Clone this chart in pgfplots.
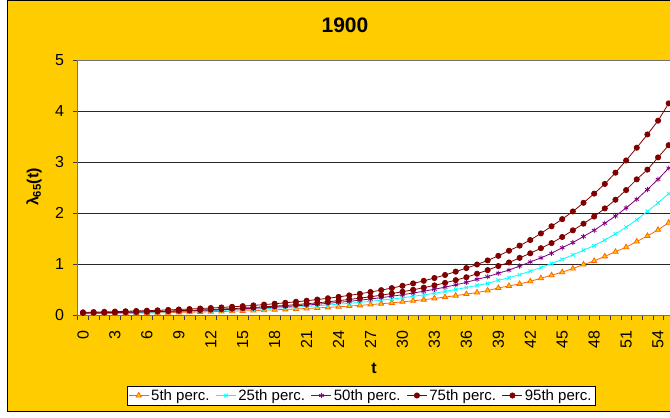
\documentclass[border=0pt]{standalone}
\usepackage{pgfplots}
\pgfplotsset{compat=1.18}
\usepackage{pgfplotstable}
\usepackage{fontspec}
\setmainfont{Liberation Sans}

\definecolor{gold}{RGB}{255,204,0}
\definecolor{orng}{RGB}{255,102,0}
\definecolor{cyn}{RGB}{0,255,255}
\definecolor{purp}{RGB}{128,0,128}
\definecolor{dred}{RGB}{128,0,0}

% lambda_65(t) percentiles, year 1900
\pgfplotstableread{
t p5 p25 p50 p75 p95
0 0.025 0.033 0.037 0.040 0.053
1 0.027 0.035 0.040 0.044 0.057
2 0.029 0.038 0.044 0.047 0.062
3 0.032 0.041 0.047 0.051 0.067
4 0.034 0.045 0.051 0.056 0.073
5 0.037 0.048 0.055 0.061 0.079
6 0.040 0.052 0.060 0.066 0.085
7 0.043 0.056 0.065 0.071 0.092
8 0.047 0.061 0.070 0.077 0.100
9 0.051 0.066 0.076 0.084 0.108
10 0.055 0.071 0.082 0.091 0.117
11 0.059 0.077 0.089 0.098 0.127
12 0.064 0.083 0.096 0.107 0.137
13 0.069 0.090 0.104 0.116 0.148
14 0.075 0.097 0.112 0.125 0.161
15 0.081 0.105 0.122 0.136 0.174
16 0.087 0.114 0.132 0.147 0.188
17 0.094 0.123 0.142 0.160 0.204
18 0.102 0.133 0.154 0.173 0.221
19 0.110 0.144 0.167 0.188 0.239
20 0.119 0.155 0.180 0.203 0.259
21 0.128 0.168 0.195 0.221 0.280
22 0.139 0.181 0.211 0.239 0.303
23 0.150 0.196 0.229 0.259 0.328
24 0.162 0.212 0.248 0.281 0.355
25 0.175 0.229 0.268 0.305 0.385
26 0.189 0.248 0.290 0.330 0.416
27 0.204 0.268 0.314 0.358 0.451
28 0.221 0.290 0.340 0.388 0.488
29 0.238 0.313 0.368 0.421 0.528
30 0.258 0.338 0.398 0.456 0.572
31 0.278 0.366 0.431 0.494 0.619
32 0.301 0.395 0.466 0.536 0.670
33 0.325 0.427 0.505 0.581 0.725
34 0.351 0.462 0.546 0.630 0.785
35 0.379 0.500 0.591 0.683 0.850
36 0.410 0.540 0.640 0.740 0.920
37 0.44 0.58 0.70 0.81 0.99
38 0.48 0.62 0.75 0.88 1.07
39 0.53 0.68 0.82 0.96 1.16
40 0.57 0.73 0.88 1.03 1.26
41 0.61 0.79 0.96 1.12 1.36
42 0.66 0.86 1.04 1.21 1.47
43 0.72 0.93 1.12 1.31 1.60
44 0.78 1.01 1.21 1.41 1.74
45 0.84 1.09 1.32 1.53 1.88
46 0.91 1.18 1.42 1.66 2.03
47 0.99 1.27 1.54 1.79 2.20
48 1.06 1.36 1.66 1.93 2.38
49 1.15 1.47 1.80 2.09 2.57
50 1.24 1.59 1.94 2.26 2.79
51 1.33 1.72 2.10 2.45 3.03
52 1.44 1.87 2.27 2.66 3.28
53 1.55 2.03 2.46 2.85 3.54
54 1.67 2.20 2.66 3.09 3.81
55 1.81 2.38 2.88 3.33 4.15
}\lambdatab

\begin{document}
\begin{tikzpicture}[x=1pt,y=1pt]
\useasboundingbox (0,0) rectangle (670,418);
\fill[white] (0,0) rectangle (670,418);
\draw[fill=gold, line width=1pt] (7.5,6) rectangle (700,417.5);

\begin{axis}[
    at={(83.0pt,103pt)}, anchor=origin,
    scale only axis,
    width=607pt, height=255pt,
    xmin=-0.5, xmax=56.5,
    ymin=0, ymax=5,
    axis background/.style={fill=white},
    axis line style={black!55},
    xtick={0,3,...,54},
    minor xtick={-0.5,0.5,...,56.5},
    ytick={0,1,...,5},
    xtick pos=bottom, ytick pos=left,
    tick align=outside,
    major tick length=5pt, minor tick length=5pt,
    major x tick style={draw=none},
    every tick/.style={black!75},
    ymajorgrids,
    major grid style={black!85, line width=0.7pt},
    /pgf/number format/assume math mode=true,
    tick label style={font=\fontsize{16}{19}\selectfont},
    xticklabel style={rotate=90, anchor=east},
    xticklabel shift=7pt,
    yticklabel shift=5pt,
    legend style={at={(0.4667,-0.3157)}, anchor=center, draw=black, fill=white,
        font=\fontsize{15}{18}\selectfont, inner sep=1.5pt,
        /tikz/every even column/.append style={column sep=4pt}},
    legend columns=5,
    legend image code/.code={\draw[mark repeat=2,mark phase=2] plot coordinates {(0pt,0pt) (10pt,0pt) (20pt,0pt)};},
]
\addplot[orng, line width=0.8pt, mark=triangle*, mark size=3pt, mark options={fill=gold, draw=orng}] table[x=t, y=p5] {\lambdatab};
\addplot[cyn, line width=0.8pt, mark=x, mark size=2.6pt] table[x=t, y=p25] {\lambdatab};
\addplot[purp, line width=0.8pt, mark=asterisk, mark size=2.6pt] table[x=t, y=p50] {\lambdatab};
\addplot[dred, line width=0.8pt, mark=*, mark size=2.6pt] table[x=t, y=p75] {\lambdatab};
\addplot[dred, line width=0.8pt, mark=*, mark size=2.6pt] table[x=t, y=p95] {\lambdatab};
\legend{5th perc., 25th perc., 50th perc., 75th perc., 95th perc.}
\end{axis}

\node[font=\bfseries\fontsize{21}{25}\selectfont] at (345,393) {1900};
\node[rotate=90, font=\bfseries\fontsize{16}{19}\selectfont] at (34,231) {λ\textsubscript{65}(t)};
\node[font=\bfseries\fontsize{16}{19}\selectfont] at (374,50) {t};
\end{tikzpicture}
\end{document}
